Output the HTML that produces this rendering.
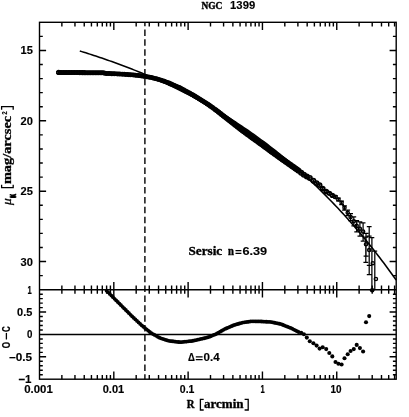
<!DOCTYPE html>
<html><head><meta charset="utf-8"><title>NGC 1399</title>
<style>html,body{margin:0;padding:0;background:#fff;}svg{display:block;filter:grayscale(1)}</style></head>
<body>
<svg width="409" height="417" viewBox="0 0 409 417">
<rect width="409" height="417" fill="#fff"/>
<g stroke="#000" stroke-width="1.4" fill="none" stroke-linecap="butt">
<rect x="39.5" y="22.3" width="356.70" height="356.90"/>
<line x1="39.5" x2="396.2" y1="289.7" y2="289.7"/>
<line x1="39.5" x2="396.2" y1="334.45" y2="334.45"/>
<path d="M61.87 22.3v4.1M61.87 285.59999999999997v8.2M61.87 379.2v-4.1M74.96 22.3v4.1M74.96 285.59999999999997v8.2M74.96 379.2v-4.1M84.24 22.3v4.1M84.24 285.59999999999997v8.2M84.24 379.2v-4.1M91.44 22.3v4.1M91.44 285.59999999999997v8.2M91.44 379.2v-4.1M97.33 22.3v4.1M97.33 285.59999999999997v8.2M97.33 379.2v-4.1M102.30 22.3v4.1M102.30 285.59999999999997v8.2M102.30 379.2v-4.1M106.61 22.3v4.1M106.61 285.59999999999997v8.2M106.61 379.2v-4.1M110.41 22.3v4.1M110.41 285.59999999999997v8.2M110.41 379.2v-4.1M113.81 22.3v7.7M113.81 282.0v15.4M113.81 379.2v-7.7M136.18 22.3v4.1M136.18 285.59999999999997v8.2M136.18 379.2v-4.1M149.27 22.3v4.1M149.27 285.59999999999997v8.2M149.27 379.2v-4.1M158.55 22.3v4.1M158.55 285.59999999999997v8.2M158.55 379.2v-4.1M165.75 22.3v4.1M165.75 285.59999999999997v8.2M165.75 379.2v-4.1M171.64 22.3v4.1M171.64 285.59999999999997v8.2M171.64 379.2v-4.1M176.61 22.3v4.1M176.61 285.59999999999997v8.2M176.61 379.2v-4.1M180.92 22.3v4.1M180.92 285.59999999999997v8.2M180.92 379.2v-4.1M184.72 22.3v4.1M184.72 285.59999999999997v8.2M184.72 379.2v-4.1M188.12 22.3v7.7M188.12 282.0v15.4M188.12 379.2v-7.7M210.50 22.3v4.1M210.50 285.59999999999997v8.2M210.50 379.2v-4.1M223.58 22.3v4.1M223.58 285.59999999999997v8.2M223.58 379.2v-4.1M232.87 22.3v4.1M232.87 285.59999999999997v8.2M232.87 379.2v-4.1M240.07 22.3v4.1M240.07 285.59999999999997v8.2M240.07 379.2v-4.1M245.95 22.3v4.1M245.95 285.59999999999997v8.2M245.95 379.2v-4.1M250.93 22.3v4.1M250.93 285.59999999999997v8.2M250.93 379.2v-4.1M255.24 22.3v4.1M255.24 285.59999999999997v8.2M255.24 379.2v-4.1M259.04 22.3v4.1M259.04 285.59999999999997v8.2M259.04 379.2v-4.1M262.44 22.3v7.7M262.44 282.0v15.4M262.44 379.2v-7.7M284.81 22.3v4.1M284.81 285.59999999999997v8.2M284.81 379.2v-4.1M297.89 22.3v4.1M297.89 285.59999999999997v8.2M297.89 379.2v-4.1M307.18 22.3v4.1M307.18 285.59999999999997v8.2M307.18 379.2v-4.1M314.38 22.3v4.1M314.38 285.59999999999997v8.2M314.38 379.2v-4.1M320.26 22.3v4.1M320.26 285.59999999999997v8.2M320.26 379.2v-4.1M325.24 22.3v4.1M325.24 285.59999999999997v8.2M325.24 379.2v-4.1M329.55 22.3v4.1M329.55 285.59999999999997v8.2M329.55 379.2v-4.1M333.35 22.3v4.1M333.35 285.59999999999997v8.2M333.35 379.2v-4.1M336.75 22.3v7.7M336.75 282.0v15.4M336.75 379.2v-7.7M359.12 22.3v4.1M359.12 285.59999999999997v8.2M359.12 379.2v-4.1M372.21 22.3v4.1M372.21 285.59999999999997v8.2M372.21 379.2v-4.1M381.49 22.3v4.1M381.49 285.59999999999997v8.2M381.49 379.2v-4.1M388.69 22.3v4.1M388.69 285.59999999999997v8.2M388.69 379.2v-4.1M394.58 22.3v4.1M394.58 285.59999999999997v8.2M394.58 379.2v-4.1M39.5 36.37h3.3M396.2 36.37h-3.3M39.5 50.45h6.6M396.2 50.45h-6.6M39.5 64.52h3.3M396.2 64.52h-3.3M39.5 78.59h3.3M396.2 78.59h-3.3M39.5 92.67h3.3M396.2 92.67h-3.3M39.5 106.74h3.3M396.2 106.74h-3.3M39.5 120.82h6.6M396.2 120.82h-6.6M39.5 134.89h3.3M396.2 134.89h-3.3M39.5 148.96h3.3M396.2 148.96h-3.3M39.5 163.04h3.3M396.2 163.04h-3.3M39.5 177.11h3.3M396.2 177.11h-3.3M39.5 191.18h6.6M396.2 191.18h-6.6M39.5 205.26h3.3M396.2 205.26h-3.3M39.5 219.33h3.3M396.2 219.33h-3.3M39.5 233.41h3.3M396.2 233.41h-3.3M39.5 247.48h3.3M396.2 247.48h-3.3M39.5 261.55h6.6M396.2 261.55h-6.6M39.5 275.63h3.3M396.2 275.63h-3.3M39.5 374.72h3.3M396.2 374.72h-3.3M39.5 370.25h3.3M396.2 370.25h-3.3M39.5 365.77h3.3M396.2 365.77h-3.3M39.5 361.30h3.3M396.2 361.30h-3.3M39.5 356.82h6.6M396.2 356.82h-6.6M39.5 352.35h3.3M396.2 352.35h-3.3M39.5 347.88h3.3M396.2 347.88h-3.3M39.5 343.40h3.3M396.2 343.40h-3.3M39.5 338.93h3.3M396.2 338.93h-3.3M39.5 329.97h3.3M396.2 329.97h-3.3M39.5 325.50h3.3M396.2 325.50h-3.3M39.5 321.02h3.3M396.2 321.02h-3.3M39.5 316.55h3.3M396.2 316.55h-3.3M39.5 312.07h6.6M396.2 312.07h-6.6M39.5 307.60h3.3M396.2 307.60h-3.3M39.5 303.12h3.3M396.2 303.12h-3.3M39.5 298.65h3.3M396.2 298.65h-3.3M39.5 294.18h3.3M396.2 294.18h-3.3"/>
<line x1="144.9" x2="144.9" y1="22.3" y2="379.2" stroke-dasharray="6.5 3.35" stroke-dashoffset="2.65"/>
</g>
<g stroke="#000" stroke-width="1.25" fill="none">
<path d="M58.60 71.52V73.41M56.20 71.52h4.8M56.20 73.41h4.8M60.20 71.54V73.43M57.80 71.54h4.8M57.80 73.43h4.8M61.80 71.55V73.44M59.40 71.55h4.8M59.40 73.44h4.8M63.40 71.56V73.45M61.00 71.56h4.8M61.00 73.45h4.8M65.00 71.58V73.47M62.60 71.58h4.8M62.60 73.47h4.8M66.60 71.59V73.48M64.20 71.59h4.8M64.20 73.48h4.8M68.20 71.61V73.50M65.80 71.61h4.8M65.80 73.50h4.8M69.80 71.62V73.51M67.40 71.62h4.8M67.40 73.51h4.8M71.40 71.63V73.52M69.00 71.63h4.8M69.00 73.52h4.8M73.00 71.65V73.54M70.60 71.65h4.8M70.60 73.54h4.8M74.60 71.66V73.55M72.20 71.66h4.8M72.20 73.55h4.8M76.20 71.67V73.56M73.80 71.67h4.8M73.80 73.56h4.8M77.80 71.69V73.58M75.40 71.69h4.8M75.40 73.58h4.8M79.40 71.70V73.59M77.00 71.70h4.8M77.00 73.59h4.8M81.00 71.72V73.61M78.60 71.72h4.8M78.60 73.61h4.8M82.60 71.73V73.62M80.20 71.73h4.8M80.20 73.62h4.8M84.20 71.74V73.63M81.80 71.74h4.8M81.80 73.63h4.8M85.80 71.76V73.65M83.40 71.76h4.8M83.40 73.65h4.8M87.40 71.77V73.66M85.00 71.77h4.8M85.00 73.66h4.8M89.00 71.78V73.67M86.60 71.78h4.8M86.60 73.67h4.8M90.60 71.80V73.69M88.20 71.80h4.8M88.20 73.69h4.8M92.20 71.81V73.70M89.80 71.81h4.8M89.80 73.70h4.8M93.80 71.83V73.72M91.40 71.83h4.8M91.40 73.72h4.8M95.40 71.84V73.73M93.00 71.84h4.8M93.00 73.73h4.8M97.00 71.85V73.74M94.60 71.85h4.8M94.60 73.74h4.8M98.60 71.87V73.76M96.20 71.87h4.8M96.20 73.76h4.8M100.20 71.88V73.77M97.80 71.88h4.8M97.80 73.77h4.8M101.80 71.89V73.78M99.40 71.89h4.8M99.40 73.78h4.8M103.40 71.91V73.80M101.00 71.91h4.8M101.00 73.80h4.8M105.00 72.46V74.35M102.60 72.46h4.8M102.60 74.35h4.8M106.60 72.60V74.49M104.20 72.60h4.8M104.20 74.49h4.8M108.20 72.65V74.54M105.80 72.65h4.8M105.80 74.54h4.8M109.80 72.70V74.59M107.40 72.70h4.8M107.40 74.59h4.8M111.40 72.76V74.65M109.00 72.76h4.8M109.00 74.65h4.8M113.00 72.83V74.72M110.60 72.83h4.8M110.60 74.72h4.8M114.60 72.90V74.79M112.20 72.90h4.8M112.20 74.79h4.8M116.20 72.97V74.86M113.80 72.97h4.8M113.80 74.86h4.8M117.80 73.05V74.94M115.40 73.05h4.8M115.40 74.94h4.8M119.40 73.14V75.03M117.00 73.14h4.8M117.00 75.03h4.8M121.00 73.23V75.12M118.60 73.23h4.8M118.60 75.12h4.8M122.60 73.33V75.22M120.20 73.33h4.8M120.20 75.22h4.8M124.20 73.43V75.32M121.80 73.43h4.8M121.80 75.32h4.8M125.80 73.53V75.42M123.40 73.53h4.8M123.40 75.42h4.8M127.40 73.64V75.53M125.00 73.64h4.8M125.00 75.53h4.8M129.00 73.76V75.65M126.60 73.76h4.8M126.60 75.65h4.8M130.60 73.88V75.77M128.20 73.88h4.8M128.20 75.77h4.8M132.20 74.00V75.89M129.80 74.00h4.8M129.80 75.89h4.8M133.80 74.14V76.03M131.40 74.14h4.8M131.40 76.03h4.8M135.40 74.31V76.20M133.00 74.31h4.8M133.00 76.20h4.8M137.00 74.49V76.38M134.60 74.49h4.8M134.60 76.38h4.8M138.60 74.66V76.55M136.20 74.66h4.8M136.20 76.55h4.8M140.20 74.85V76.74M137.80 74.85h4.8M137.80 76.74h4.8M141.80 75.04V76.93M139.40 75.04h4.8M139.40 76.93h4.8M143.40 75.28V77.17M141.00 75.28h4.8M141.00 77.17h4.8M145.00 75.54V77.43M142.60 75.54h4.8M142.60 77.43h4.8M146.60 75.80V77.69M144.20 75.80h4.8M144.20 77.69h4.8M148.20 76.06V77.95M145.80 76.06h4.8M145.80 77.95h4.8M149.80 76.33V78.22M147.40 76.33h4.8M147.40 78.22h4.8M151.40 76.66V78.55M149.00 76.66h4.8M149.00 78.55h4.8M153.00 77.07V78.96M150.60 77.07h4.8M150.60 78.96h4.8M154.60 77.48V79.37M152.20 77.48h4.8M152.20 79.37h4.8M156.20 77.90V79.79M153.80 77.90h4.8M153.80 79.79h4.8M157.80 78.32V80.21M155.40 78.32h4.8M155.40 80.21h4.8M159.40 78.75V80.64M157.00 78.75h4.8M157.00 80.64h4.8M161.00 79.29V81.18M158.60 79.29h4.8M158.60 81.18h4.8M162.60 79.85V81.74M160.20 79.85h4.8M160.20 81.74h4.8M164.20 80.41V82.30M161.80 80.41h4.8M161.80 82.30h4.8M165.80 80.97V82.86M163.40 80.97h4.8M163.40 82.86h4.8M167.40 81.55V83.44M165.00 81.55h4.8M165.00 83.44h4.8M169.00 82.17V84.06M166.60 82.17h4.8M166.60 84.06h4.8M170.60 82.86V84.75M168.20 82.86h4.8M168.20 84.75h4.8M172.20 83.56V85.45M169.80 83.56h4.8M169.80 85.45h4.8M173.80 84.27V86.16M171.40 84.27h4.8M171.40 86.16h4.8M175.40 84.99V86.88M173.00 84.99h4.8M173.00 86.88h4.8M177.00 85.71V87.60M174.60 85.71h4.8M174.60 87.60h4.8M178.60 86.43V88.32M176.20 86.43h4.8M176.20 88.32h4.8M180.20 87.17V89.06M177.80 87.17h4.8M177.80 89.06h4.8M181.80 88.02V89.91M179.40 88.02h4.8M179.40 89.91h4.8M183.40 88.88V90.77M181.00 88.88h4.8M181.00 90.77h4.8M185.00 89.74V91.63M182.60 89.74h4.8M182.60 91.63h4.8M186.60 90.61V92.50M184.20 90.61h4.8M184.20 92.50h4.8M188.20 91.48V93.37M185.80 91.48h4.8M185.80 93.37h4.8M189.80 92.36V94.25M187.40 92.36h4.8M187.40 94.25h4.8M191.40 93.25V95.14M189.00 93.25h4.8M189.00 95.14h4.8M193.00 94.19V96.08M190.60 94.19h4.8M190.60 96.08h4.8M194.60 95.15V97.04M192.20 95.15h4.8M192.20 97.04h4.8M196.20 96.12V98.01M193.80 96.12h4.8M193.80 98.01h4.8M197.80 97.09V98.98M195.40 97.09h4.8M195.40 98.98h4.8M199.40 98.07V99.96M197.00 98.07h4.8M197.00 99.96h4.8M201.00 99.06V100.95M198.60 99.06h4.8M198.60 100.95h4.8M202.60 100.05V101.94M200.20 100.05h4.8M200.20 101.94h4.8M204.20 101.06V102.95M201.80 101.06h4.8M201.80 102.95h4.8M205.80 102.09V103.98M203.40 102.09h4.8M203.40 103.98h4.8M207.40 103.13V105.02M205.00 103.13h4.8M205.00 105.02h4.8M209.00 104.19V106.08M206.60 104.19h4.8M206.60 106.08h4.8M210.60 105.31V107.20M208.20 105.31h4.8M208.20 107.20h4.8M212.20 106.44V108.33M209.80 106.44h4.8M209.80 108.33h4.8M213.80 107.58V109.47M211.40 107.58h4.8M211.40 109.47h4.8M215.40 108.73V110.62M213.00 108.73h4.8M213.00 110.62h4.8M217.00 109.93V111.82M214.60 109.93h4.8M214.60 111.82h4.8M218.60 111.17V113.06M216.20 111.17h4.8M216.20 113.06h4.8M220.20 112.41V114.30M217.80 112.41h4.8M217.80 114.30h4.8M221.80 113.67V115.56M219.40 113.67h4.8M219.40 115.56h4.8M223.40 114.93V116.82M221.00 114.93h4.8M221.00 116.82h4.8M225.00 116.20V118.09M222.60 116.20h4.8M222.60 118.09h4.8M226.60 117.41V119.30M224.20 117.41h4.8M224.20 119.30h4.8M228.20 118.62V120.51M225.80 118.62h4.8M225.80 120.51h4.8M229.80 119.85V121.74M227.40 119.85h4.8M227.40 121.74h4.8M231.40 121.08V122.97M229.00 121.08h4.8M229.00 122.97h4.8M233.00 122.32V124.21M230.60 122.32h4.8M230.60 124.21h4.8M234.60 123.53V125.42M232.20 123.53h4.8M232.20 125.42h4.8M236.20 124.72V126.61M233.80 124.72h4.8M233.80 126.61h4.8M237.80 125.92V127.81M235.40 125.92h4.8M235.40 127.81h4.8M239.40 127.12V129.01M237.00 127.12h4.8M237.00 129.01h4.8M241.00 128.33V130.22M238.60 128.33h4.8M238.60 130.22h4.8M242.60 129.55V131.44M240.20 129.55h4.8M240.20 131.44h4.8M244.20 130.70V132.59M241.80 130.70h4.8M241.80 132.59h4.8M245.80 131.87V133.76M243.40 131.87h4.8M243.40 133.76h4.8M247.40 133.04V134.93M245.00 133.04h4.8M245.00 134.93h4.8M249.00 134.22V136.11M246.60 134.22h4.8M246.60 136.11h4.8M250.60 135.41V137.30M248.20 135.41h4.8M248.20 137.30h4.8M252.20 136.56V138.45M249.80 136.56h4.8M249.80 138.45h4.8M253.80 137.68V139.57M251.40 137.68h4.8M251.40 139.57h4.8M255.40 138.81V140.70M253.00 138.81h4.8M253.00 140.70h4.8M257.00 139.95V141.84M254.60 139.95h4.8M254.60 141.84h4.8M258.60 141.10V142.99M256.20 141.10h4.8M256.20 142.99h4.8M260.20 142.25V144.14M257.80 142.25h4.8M257.80 144.14h4.8M261.80 143.42V145.31M259.40 143.42h4.8M259.40 145.31h4.8M263.40 144.58V146.47M261.00 144.58h4.8M261.00 146.47h4.8M265.00 145.75V147.64M262.60 145.75h4.8M262.60 147.64h4.8M266.60 146.93V148.82M264.20 146.93h4.8M264.20 148.82h4.8M268.20 148.13V150.02M265.80 148.13h4.8M265.80 150.02h4.8M269.80 149.33V151.22M267.40 149.33h4.8M267.40 151.22h4.8M271.40 150.49V152.38M269.00 150.49h4.8M269.00 152.38h4.8M273.00 151.63V153.52M270.60 151.63h4.8M270.60 153.52h4.8M274.60 152.77V154.66M272.20 152.77h4.8M272.20 154.66h4.8M276.20 153.93V155.82M273.80 153.93h4.8M273.80 155.82h4.8M277.80 155.10V156.99M275.40 155.10h4.8M275.40 156.99h4.8M279.40 156.28V158.17M277.00 156.28h4.8M277.00 158.17h4.8M281.00 157.45V159.34M278.60 157.45h4.8M278.60 159.34h4.8M282.60 158.55V160.44M280.20 158.55h4.8M280.20 160.44h4.8M284.20 159.66V161.55M281.80 159.66h4.8M281.80 161.55h4.8M285.80 160.78V162.67M283.40 160.78h4.8M283.40 162.67h4.8M287.40 161.92V163.81M285.00 161.92h4.8M285.00 163.81h4.8M289.00 163.06V164.95M286.60 163.06h4.8M286.60 164.95h4.8M290.60 164.21V166.10M288.20 164.21h4.8M288.20 166.10h4.8M292.20 165.33V167.22M289.80 165.33h4.8M289.80 167.22h4.8M293.80 166.45V168.34M291.40 166.45h4.8M291.40 168.34h4.8M295.40 167.58V169.47M293.00 167.58h4.8M293.00 169.47h4.8M297.00 168.71V170.60M294.60 168.71h4.8M294.60 170.60h4.8M298.60 169.86V171.75M296.20 169.86h4.8M296.20 171.75h4.8M301.20 171.95V173.84M298.80 171.95h4.8M298.80 173.84h4.8M303.90 173.90V175.79M301.50 173.90h4.8M301.50 175.79h4.8M306.80 175.48V177.37M304.40 175.48h4.8M304.40 177.37h4.8M309.80 177.12V179.01M307.40 177.12h4.8M307.40 179.01h4.8M313.40 179.87V181.76M311.00 179.87h4.8M311.00 181.76h4.8M316.60 182.18V184.07M314.20 182.18h4.8M314.20 184.07h4.8M319.60 184.14V186.03M317.20 184.14h4.8M317.20 186.03h4.8M322.70 187.60V189.49M320.30 187.60h4.8M320.30 189.49h4.8M326.20 190.54V192.43M323.80 190.54h4.8M323.80 192.43h4.8M329.30 192.46V194.35M326.90 192.46h4.8M326.90 194.35h4.8M332.30 194.49V196.38M329.90 194.49h4.8M329.90 196.38h4.8M335.50 195.94V198.12M333.10 195.94h4.8M333.10 198.12h4.8M338.40 198.23V200.95M336.00 198.23h4.8M336.00 200.95h4.8M341.60 201.06V204.55M339.20 201.06h4.8M339.20 204.55h4.8M344.50 205.77V210.13M342.10 205.77h4.8M342.10 210.13h4.8M347.70 210.04V215.61M345.30 210.04h4.8M345.30 215.61h4.8M350.60 213.65V220.62M348.20 213.65h4.8M348.20 220.62h4.8M353.80 216.98V225.90M351.40 216.98h4.8M351.40 225.90h4.8M356.70 220.61V231.76M354.30 220.61h4.8M354.30 231.76h4.8M359.90 221.89V236.15M357.50 221.89h4.8M357.50 236.15h4.8M363.10 222.76V241.00M360.70 222.76h4.8M360.70 241.00h4.8M366.00 233.33V256.12M363.60 233.33h4.8M363.60 256.12h4.8M369.20 236.16V265.32M366.80 236.16h4.8M366.80 265.32h4.8M365.80 237.00V262.30M363.40 237.00h4.8M363.40 262.30h4.8M369.20 226.50V274.60M366.80 226.50h4.8M366.80 274.60h4.8M371.90 237.50V289.70M369.50 237.50h4.8M374.80 251.00V289.70M372.40 251.00h4.8"/>
</g>
<g stroke="#000" fill="none">
<circle cx="58.60" cy="72.42" r="1.80" stroke-width="1.5"/>
<circle cx="60.20" cy="72.44" r="1.80" stroke-width="1.5"/>
<circle cx="61.80" cy="72.45" r="1.79" stroke-width="1.5"/>
<circle cx="63.40" cy="72.46" r="1.79" stroke-width="1.5"/>
<circle cx="65.00" cy="72.48" r="1.79" stroke-width="1.5"/>
<circle cx="66.60" cy="72.49" r="1.79" stroke-width="1.5"/>
<circle cx="68.20" cy="72.51" r="1.79" stroke-width="1.5"/>
<circle cx="69.80" cy="72.52" r="1.79" stroke-width="1.5"/>
<circle cx="71.40" cy="72.53" r="1.78" stroke-width="1.5"/>
<circle cx="73.00" cy="72.55" r="1.78" stroke-width="1.5"/>
<circle cx="74.60" cy="72.56" r="1.78" stroke-width="1.5"/>
<circle cx="76.20" cy="72.57" r="1.78" stroke-width="1.5"/>
<circle cx="77.80" cy="72.59" r="1.78" stroke-width="1.5"/>
<circle cx="79.40" cy="72.60" r="1.78" stroke-width="1.5"/>
<circle cx="81.00" cy="72.62" r="1.77" stroke-width="1.5"/>
<circle cx="82.60" cy="72.63" r="1.77" stroke-width="1.5"/>
<circle cx="84.20" cy="72.64" r="1.77" stroke-width="1.5"/>
<circle cx="85.80" cy="72.66" r="1.77" stroke-width="1.5"/>
<circle cx="87.40" cy="72.67" r="1.77" stroke-width="1.5"/>
<circle cx="89.00" cy="72.68" r="1.76" stroke-width="1.5"/>
<circle cx="90.60" cy="72.70" r="1.76" stroke-width="1.5"/>
<circle cx="92.20" cy="72.71" r="1.76" stroke-width="1.5"/>
<circle cx="93.80" cy="72.73" r="1.76" stroke-width="1.5"/>
<circle cx="95.40" cy="72.74" r="1.76" stroke-width="1.5"/>
<circle cx="97.00" cy="72.75" r="1.76" stroke-width="1.5"/>
<circle cx="98.60" cy="72.77" r="1.75" stroke-width="1.5"/>
<circle cx="100.20" cy="72.78" r="1.75" stroke-width="1.5"/>
<circle cx="101.80" cy="72.79" r="1.75" stroke-width="1.5"/>
<circle cx="103.40" cy="72.81" r="1.75" stroke-width="1.5"/>
<circle cx="105.00" cy="73.36" r="1.75" stroke-width="1.5"/>
<circle cx="106.60" cy="73.50" r="1.75" stroke-width="1.5"/>
<circle cx="108.20" cy="73.55" r="1.74" stroke-width="1.5"/>
<circle cx="109.80" cy="73.60" r="1.74" stroke-width="1.5"/>
<circle cx="111.40" cy="73.66" r="1.74" stroke-width="1.5"/>
<circle cx="113.00" cy="73.73" r="1.74" stroke-width="1.5"/>
<circle cx="114.60" cy="73.80" r="1.74" stroke-width="1.5"/>
<circle cx="116.20" cy="73.87" r="1.74" stroke-width="1.5"/>
<circle cx="117.80" cy="73.95" r="1.73" stroke-width="1.5"/>
<circle cx="119.40" cy="74.04" r="1.73" stroke-width="1.5"/>
<circle cx="121.00" cy="74.13" r="1.73" stroke-width="1.5"/>
<circle cx="122.60" cy="74.23" r="1.73" stroke-width="1.5"/>
<circle cx="124.20" cy="74.33" r="1.73" stroke-width="1.5"/>
<circle cx="125.80" cy="74.43" r="1.73" stroke-width="1.5"/>
<circle cx="127.40" cy="74.54" r="1.72" stroke-width="1.5"/>
<circle cx="129.00" cy="74.66" r="1.72" stroke-width="1.5"/>
<circle cx="130.60" cy="74.78" r="1.72" stroke-width="1.5"/>
<circle cx="132.20" cy="74.90" r="1.72" stroke-width="1.5"/>
<circle cx="133.80" cy="75.04" r="1.72" stroke-width="1.5"/>
<circle cx="135.40" cy="75.21" r="1.72" stroke-width="1.5"/>
<circle cx="137.00" cy="75.39" r="1.71" stroke-width="1.5"/>
<circle cx="138.60" cy="75.56" r="1.71" stroke-width="1.5"/>
<circle cx="140.20" cy="75.75" r="1.71" stroke-width="1.5"/>
<circle cx="141.80" cy="75.94" r="1.71" stroke-width="1.5"/>
<circle cx="143.40" cy="76.18" r="1.71" stroke-width="1.5"/>
<circle cx="145.00" cy="76.44" r="1.71" stroke-width="1.5"/>
<circle cx="146.60" cy="76.70" r="1.70" stroke-width="1.5"/>
<circle cx="148.20" cy="76.96" r="1.70" stroke-width="1.5"/>
<circle cx="149.80" cy="77.23" r="1.70" stroke-width="1.5"/>
<circle cx="151.40" cy="77.56" r="1.70" stroke-width="1.5"/>
<circle cx="153.00" cy="77.97" r="1.70" stroke-width="1.5"/>
<circle cx="154.60" cy="78.38" r="1.70" stroke-width="1.5"/>
<circle cx="156.20" cy="78.80" r="1.70" stroke-width="1.5"/>
<circle cx="157.80" cy="79.22" r="1.71" stroke-width="1.5"/>
<circle cx="159.40" cy="79.65" r="1.71" stroke-width="1.5"/>
<circle cx="161.00" cy="80.19" r="1.71" stroke-width="1.5"/>
<circle cx="162.60" cy="80.75" r="1.71" stroke-width="1.5"/>
<circle cx="164.20" cy="81.31" r="1.71" stroke-width="1.5"/>
<circle cx="165.80" cy="81.87" r="1.71" stroke-width="1.5"/>
<circle cx="167.40" cy="82.45" r="1.71" stroke-width="1.5"/>
<circle cx="169.00" cy="83.07" r="1.71" stroke-width="1.5"/>
<circle cx="170.60" cy="83.76" r="1.72" stroke-width="1.5"/>
<circle cx="172.20" cy="84.46" r="1.72" stroke-width="1.5"/>
<circle cx="173.80" cy="85.17" r="1.72" stroke-width="1.5"/>
<circle cx="175.40" cy="85.89" r="1.72" stroke-width="1.5"/>
<circle cx="177.00" cy="86.61" r="1.72" stroke-width="1.5"/>
<circle cx="178.60" cy="87.33" r="1.72" stroke-width="1.5"/>
<circle cx="180.20" cy="88.07" r="1.72" stroke-width="1.5"/>
<circle cx="181.80" cy="88.92" r="1.72" stroke-width="1.5"/>
<circle cx="183.40" cy="89.78" r="1.73" stroke-width="1.5"/>
<circle cx="185.00" cy="90.64" r="1.73" stroke-width="1.5"/>
<circle cx="186.60" cy="91.51" r="1.73" stroke-width="1.5"/>
<circle cx="188.20" cy="92.38" r="1.73" stroke-width="1.5"/>
<circle cx="189.80" cy="93.26" r="1.73" stroke-width="1.5"/>
<circle cx="191.40" cy="94.15" r="1.73" stroke-width="1.5"/>
<circle cx="193.00" cy="95.09" r="1.73" stroke-width="1.5"/>
<circle cx="194.60" cy="96.05" r="1.73" stroke-width="1.5"/>
<circle cx="196.20" cy="97.02" r="1.74" stroke-width="1.5"/>
<circle cx="197.80" cy="97.99" r="1.74" stroke-width="1.5"/>
<circle cx="199.40" cy="98.97" r="1.74" stroke-width="1.5"/>
<circle cx="201.00" cy="99.96" r="1.74" stroke-width="1.5"/>
<circle cx="202.60" cy="100.95" r="1.74" stroke-width="1.5"/>
<circle cx="204.20" cy="101.96" r="1.74" stroke-width="1.5"/>
<circle cx="205.80" cy="102.99" r="1.74" stroke-width="1.5"/>
<circle cx="207.40" cy="104.03" r="1.74" stroke-width="1.5"/>
<circle cx="209.00" cy="105.09" r="1.75" stroke-width="1.5"/>
<circle cx="210.60" cy="106.21" r="1.75" stroke-width="1.5"/>
<circle cx="212.20" cy="107.34" r="1.75" stroke-width="1.5"/>
<circle cx="213.80" cy="108.48" r="1.75" stroke-width="1.5"/>
<circle cx="215.40" cy="109.63" r="1.76" stroke-width="1.5"/>
<circle cx="217.00" cy="110.83" r="1.78" stroke-width="1.5"/>
<circle cx="218.60" cy="112.07" r="1.81" stroke-width="1.5"/>
<circle cx="220.20" cy="113.31" r="1.83" stroke-width="1.5"/>
<circle cx="221.80" cy="114.57" r="1.86" stroke-width="1.5"/>
<circle cx="223.40" cy="115.83" r="1.88" stroke-width="1.5"/>
<circle cx="225.00" cy="117.10" r="1.91" stroke-width="1.5"/>
<circle cx="226.60" cy="118.31" r="1.93" stroke-width="1.5"/>
<circle cx="228.20" cy="119.52" r="1.96" stroke-width="1.5"/>
<circle cx="229.80" cy="120.75" r="1.98" stroke-width="1.5"/>
<circle cx="231.40" cy="121.98" r="2.01" stroke-width="1.5"/>
<circle cx="233.00" cy="123.22" r="2.03" stroke-width="1.5"/>
<circle cx="234.60" cy="124.43" r="2.06" stroke-width="1.5"/>
<circle cx="236.20" cy="125.62" r="2.08" stroke-width="1.5"/>
<circle cx="237.80" cy="126.82" r="2.11" stroke-width="1.5"/>
<circle cx="239.40" cy="128.02" r="2.13" stroke-width="1.5"/>
<circle cx="241.00" cy="129.23" r="2.16" stroke-width="1.5"/>
<circle cx="242.60" cy="130.45" r="2.18" stroke-width="1.5"/>
<circle cx="244.20" cy="131.60" r="2.21" stroke-width="1.5"/>
<circle cx="245.80" cy="132.77" r="2.23" stroke-width="1.5"/>
<circle cx="247.40" cy="133.94" r="2.26" stroke-width="1.5"/>
<circle cx="249.00" cy="135.12" r="2.28" stroke-width="1.5"/>
<circle cx="250.60" cy="136.31" r="2.30" stroke-width="1.5"/>
<circle cx="252.20" cy="137.46" r="2.30" stroke-width="1.5"/>
<circle cx="253.80" cy="138.58" r="2.30" stroke-width="1.5"/>
<circle cx="255.40" cy="139.71" r="2.30" stroke-width="1.5"/>
<circle cx="257.00" cy="140.85" r="2.30" stroke-width="1.5"/>
<circle cx="258.60" cy="142.00" r="2.30" stroke-width="1.5"/>
<circle cx="260.20" cy="143.15" r="2.30" stroke-width="1.5"/>
<circle cx="261.80" cy="144.32" r="2.30" stroke-width="1.5"/>
<circle cx="263.40" cy="145.48" r="2.30" stroke-width="1.5"/>
<circle cx="265.00" cy="146.65" r="2.30" stroke-width="1.5"/>
<circle cx="266.60" cy="147.83" r="2.30" stroke-width="1.5"/>
<circle cx="268.20" cy="149.03" r="2.30" stroke-width="1.5"/>
<circle cx="269.80" cy="150.23" r="2.30" stroke-width="1.5"/>
<circle cx="271.40" cy="151.39" r="2.30" stroke-width="1.5"/>
<circle cx="273.00" cy="152.53" r="2.30" stroke-width="1.5"/>
<circle cx="274.60" cy="153.67" r="2.30" stroke-width="1.5"/>
<circle cx="276.20" cy="154.83" r="2.30" stroke-width="1.5"/>
<circle cx="277.80" cy="156.00" r="2.30" stroke-width="1.5"/>
<circle cx="279.40" cy="157.18" r="2.30" stroke-width="1.5"/>
<circle cx="281.00" cy="158.35" r="2.30" stroke-width="1.5"/>
<circle cx="282.60" cy="159.45" r="2.30" stroke-width="1.5"/>
<circle cx="284.20" cy="160.56" r="2.30" stroke-width="1.5"/>
<circle cx="285.80" cy="161.68" r="2.30" stroke-width="1.5"/>
<circle cx="287.40" cy="162.82" r="2.30" stroke-width="1.5"/>
<circle cx="289.00" cy="163.96" r="2.30" stroke-width="1.5"/>
<circle cx="290.60" cy="165.11" r="2.30" stroke-width="1.5"/>
<circle cx="292.20" cy="166.23" r="2.30" stroke-width="1.5"/>
<circle cx="293.80" cy="167.35" r="2.30" stroke-width="1.5"/>
<circle cx="295.40" cy="168.48" r="2.30" stroke-width="1.5"/>
<circle cx="297.00" cy="169.61" r="2.30" stroke-width="1.5"/>
<circle cx="298.60" cy="170.76" r="2.30" stroke-width="1.5"/>
<circle cx="301.20" cy="172.85" r="2.29" stroke-width="1.5"/>
<circle cx="303.90" cy="174.80" r="2.27" stroke-width="1.5"/>
<circle cx="306.80" cy="176.38" r="2.25" stroke-width="1.5"/>
<circle cx="309.80" cy="178.02" r="2.22" stroke-width="1.5"/>
<circle cx="313.40" cy="180.77" r="2.19" stroke-width="1.5"/>
<circle cx="316.60" cy="183.08" r="2.17" stroke-width="1.5"/>
<circle cx="319.60" cy="185.04" r="2.14" stroke-width="1.5"/>
<circle cx="322.70" cy="188.50" r="2.12" stroke-width="1.5"/>
<circle cx="326.20" cy="191.44" r="2.06" stroke-width="1.5"/>
<circle cx="329.30" cy="193.36" r="1.96" stroke-width="1.5"/>
<circle cx="332.30" cy="195.39" r="1.86" stroke-width="1.5"/>
<circle cx="335.50" cy="196.98" r="1.75" stroke-width="1.4"/>
<circle cx="338.40" cy="199.52" r="1.65" stroke-width="1.4"/>
<circle cx="341.60" cy="202.72" r="1.60" stroke-width="1.4"/>
<circle cx="344.50" cy="207.85" r="1.60" stroke-width="1.4"/>
<circle cx="347.70" cy="212.69" r="1.60" stroke-width="1.4"/>
<circle cx="350.60" cy="216.97" r="1.60" stroke-width="1.4"/>
<circle cx="353.80" cy="221.23" r="1.60" stroke-width="1.4"/>
<circle cx="356.70" cy="225.92" r="1.60" stroke-width="1.4"/>
<circle cx="359.90" cy="228.68" r="1.60" stroke-width="1.4"/>
<circle cx="363.10" cy="231.44" r="1.60" stroke-width="1.4"/>
<circle cx="366.00" cy="244.18" r="1.60" stroke-width="1.4"/>
<circle cx="369.20" cy="250.04" r="1.60" stroke-width="1.4"/>
<circle cx="372.80" cy="263.20" r="1.60" stroke-width="1.4"/>
<circle cx="375.90" cy="279.00" r="1.60" stroke-width="1.4"/>
</g>
<path d="M79.80 51.00 L81.80 51.62 L83.80 52.24 L85.80 52.86 L87.80 53.49 L89.80 54.13 L91.80 54.78 L93.80 55.43 L95.80 56.08 L97.80 56.75 L99.80 57.42 L101.80 58.09 L103.80 58.78 L105.80 59.47 L107.80 60.16 L109.80 60.87 L111.80 61.58 L113.80 62.29 L115.80 63.02 L117.80 63.75 L119.80 64.48 L121.80 65.23 L123.80 65.98 L125.80 66.74 L127.80 67.51 L129.80 68.28 L131.80 69.07 L133.80 69.86 L135.80 70.65 L137.80 71.46 L139.80 72.27 L141.80 73.09 L143.80 73.92 L145.80 74.76 L147.80 75.60 L149.80 76.46 L151.80 77.32 L153.80 78.19 L155.80 79.07 L157.80 79.96 L159.80 80.85 L161.80 81.76 L163.80 82.67 L165.80 83.59 L167.80 84.52 L169.80 85.46 L171.80 86.41 L173.80 87.37 L175.80 88.34 L177.80 89.32 L179.80 90.31 L181.80 91.30 L183.80 92.31 L185.80 93.33 L187.80 94.35 L189.80 95.39 L191.80 96.43 L193.80 97.49 L195.80 98.56 L197.80 99.63 L199.80 100.72 L201.80 101.82 L203.80 102.93 L205.80 104.05 L207.80 105.18 L209.80 106.32 L211.80 107.47 L213.80 108.64 L215.80 109.81 L217.80 111.00 L219.80 112.20 L221.80 113.41 L223.80 114.63 L225.80 115.87 L227.80 117.11 L229.80 118.37 L231.80 119.64 L233.80 120.92 L235.80 122.22 L237.80 123.53 L239.80 124.85 L241.80 126.18 L243.80 127.53 L245.80 128.88 L247.80 130.26 L249.80 131.64 L251.80 133.04 L253.80 134.46 L255.80 135.88 L257.80 137.32 L259.80 138.78 L261.80 140.25 L263.80 141.73 L265.80 143.23 L267.80 144.74 L269.80 146.27 L271.80 147.81 L273.80 149.37 L275.80 150.94 L277.80 152.53 L279.80 154.13 L281.80 155.75 L283.80 157.39 L285.80 159.04 L287.80 160.70 L289.80 162.39 L291.80 164.09 L293.80 165.80 L295.80 167.53 L297.80 169.28 L299.80 171.05 L301.80 172.83 L303.80 174.63 L305.80 176.45 L307.80 178.29 L309.80 180.14 L311.80 182.02 L313.80 183.91 L315.80 185.81 L317.80 187.74 L319.80 189.69 L321.80 191.65 L323.80 193.64 L325.80 195.64 L327.80 197.67 L329.80 199.71 L331.80 201.77 L333.80 203.85 L335.80 205.96 L337.80 208.08 L339.80 210.23 L341.80 212.39 L343.80 214.58 L345.80 216.79 L347.80 219.02 L349.80 221.27 L351.80 223.54 L353.80 225.83 L355.80 228.15 L357.80 230.49 L359.80 232.86 L361.80 235.24 L363.80 237.65 L365.80 240.08 L367.80 242.54 L369.80 245.02 L371.80 247.52 L373.80 250.05 L375.80 252.61 L377.80 255.19 L379.80 257.79 L381.80 260.42 L383.80 263.07 L385.80 265.75 L387.80 268.46 L389.80 271.19 L391.80 273.95 L393.80 276.74 L395.80 279.55 L396.2 280.12" stroke="#000" stroke-width="1.55" fill="none"/>
<g fill="#000">
<circle cx="106.60" cy="290.71" r="1.9"/>
<circle cx="108.20" cy="292.33" r="1.9"/>
<circle cx="109.80" cy="293.94" r="1.9"/>
<circle cx="111.40" cy="295.56" r="1.9"/>
<circle cx="113.00" cy="297.18" r="1.9"/>
<circle cx="114.60" cy="298.79" r="1.9"/>
<circle cx="116.20" cy="300.40" r="1.9"/>
<circle cx="117.80" cy="302.00" r="1.9"/>
<circle cx="119.40" cy="303.60" r="1.9"/>
<circle cx="121.00" cy="305.20" r="1.9"/>
<circle cx="122.60" cy="306.80" r="1.9"/>
<circle cx="124.20" cy="308.40" r="1.9"/>
<circle cx="125.80" cy="310.00" r="1.9"/>
<circle cx="127.40" cy="311.60" r="1.9"/>
<circle cx="129.00" cy="313.20" r="1.9"/>
<circle cx="130.60" cy="314.80" r="1.9"/>
<circle cx="132.20" cy="316.40" r="1.9"/>
<circle cx="133.80" cy="317.95" r="1.9"/>
<circle cx="135.40" cy="319.44" r="1.9"/>
<circle cx="137.00" cy="320.93" r="1.9"/>
<circle cx="138.60" cy="322.42" r="1.9"/>
<circle cx="140.20" cy="323.92" r="1.9"/>
<circle cx="141.80" cy="325.41" r="1.9"/>
<circle cx="143.40" cy="326.73" r="1.9"/>
<circle cx="145.00" cy="328.04" r="1.9"/>
<circle cx="146.60" cy="329.36" r="1.9"/>
<circle cx="148.20" cy="330.67" r="1.9"/>
<circle cx="149.80" cy="331.98" r="1.9"/>
<circle cx="151.40" cy="333.14" r="1.9"/>
<circle cx="153.00" cy="334.05" r="1.9"/>
<circle cx="154.60" cy="334.96" r="1.9"/>
<circle cx="156.20" cy="335.87" r="1.9"/>
<circle cx="157.80" cy="336.78" r="1.9"/>
<circle cx="159.40" cy="337.69" r="1.9"/>
<circle cx="161.00" cy="338.28" r="1.9"/>
<circle cx="162.60" cy="338.82" r="1.9"/>
<circle cx="164.20" cy="339.37" r="1.9"/>
<circle cx="165.80" cy="339.91" r="1.9"/>
<circle cx="167.40" cy="340.46" r="1.9"/>
<circle cx="169.00" cy="340.87" r="1.9"/>
<circle cx="170.60" cy="341.06" r="1.9"/>
<circle cx="172.20" cy="341.25" r="1.9"/>
<circle cx="173.80" cy="341.45" r="1.9"/>
<circle cx="175.40" cy="341.64" r="1.9"/>
<circle cx="177.00" cy="341.83" r="1.9"/>
<circle cx="178.60" cy="342.02" r="1.9"/>
<circle cx="180.20" cy="342.19" r="1.9"/>
<circle cx="181.80" cy="342.03" r="1.9"/>
<circle cx="183.40" cy="341.86" r="1.9"/>
<circle cx="185.00" cy="341.70" r="1.9"/>
<circle cx="186.60" cy="341.53" r="1.9"/>
<circle cx="188.20" cy="341.37" r="1.9"/>
<circle cx="189.80" cy="341.21" r="1.9"/>
<circle cx="191.40" cy="341.04" r="1.9"/>
<circle cx="193.00" cy="340.74" r="1.9"/>
<circle cx="194.60" cy="340.38" r="1.9"/>
<circle cx="196.20" cy="340.03" r="1.9"/>
<circle cx="197.80" cy="339.68" r="1.9"/>
<circle cx="199.40" cy="339.33" r="1.9"/>
<circle cx="201.00" cy="338.97" r="1.9"/>
<circle cx="202.60" cy="338.62" r="1.9"/>
<circle cx="204.20" cy="338.24" r="1.9"/>
<circle cx="205.80" cy="337.81" r="1.9"/>
<circle cx="207.40" cy="337.38" r="1.9"/>
<circle cx="209.00" cy="336.92" r="1.9"/>
<circle cx="210.60" cy="336.26" r="1.9"/>
<circle cx="212.20" cy="335.60" r="1.9"/>
<circle cx="213.80" cy="334.95" r="1.9"/>
<circle cx="215.40" cy="334.29" r="1.9"/>
<circle cx="217.00" cy="333.49" r="1.9"/>
<circle cx="218.60" cy="332.58" r="1.9"/>
<circle cx="220.20" cy="331.67" r="1.9"/>
<circle cx="221.80" cy="330.76" r="1.9"/>
<circle cx="223.40" cy="329.85" r="1.9"/>
<circle cx="225.00" cy="328.96" r="1.9"/>
<circle cx="226.60" cy="328.27" r="1.9"/>
<circle cx="228.20" cy="327.58" r="1.9"/>
<circle cx="229.80" cy="326.88" r="1.9"/>
<circle cx="231.40" cy="326.19" r="1.9"/>
<circle cx="233.00" cy="325.50" r="1.9"/>
<circle cx="234.60" cy="324.93" r="1.9"/>
<circle cx="236.20" cy="324.46" r="1.9"/>
<circle cx="237.80" cy="323.99" r="1.9"/>
<circle cx="239.40" cy="323.52" r="1.9"/>
<circle cx="241.00" cy="323.04" r="1.9"/>
<circle cx="242.60" cy="322.59" r="1.9"/>
<circle cx="244.20" cy="322.35" r="1.9"/>
<circle cx="245.80" cy="322.11" r="1.9"/>
<circle cx="247.40" cy="321.88" r="1.9"/>
<circle cx="249.00" cy="321.64" r="1.9"/>
<circle cx="250.60" cy="321.40" r="1.9"/>
<circle cx="252.20" cy="321.32" r="1.9"/>
<circle cx="253.80" cy="321.35" r="1.9"/>
<circle cx="255.40" cy="321.38" r="1.9"/>
<circle cx="257.00" cy="321.41" r="1.9"/>
<circle cx="258.60" cy="321.44" r="1.9"/>
<circle cx="260.20" cy="321.47" r="1.9"/>
<circle cx="261.80" cy="321.51" r="1.9"/>
<circle cx="263.40" cy="321.58" r="1.9"/>
<circle cx="265.00" cy="321.65" r="1.9"/>
<circle cx="266.60" cy="321.73" r="1.9"/>
<circle cx="268.20" cy="321.80" r="1.9"/>
<circle cx="269.80" cy="321.87" r="1.9"/>
<circle cx="271.40" cy="322.10" r="1.9"/>
<circle cx="273.00" cy="322.43" r="1.9"/>
<circle cx="274.60" cy="322.76" r="1.9"/>
<circle cx="276.20" cy="323.08" r="1.9"/>
<circle cx="277.80" cy="323.41" r="1.9"/>
<circle cx="279.40" cy="323.73" r="1.9"/>
<circle cx="281.00" cy="324.12" r="1.9"/>
<circle cx="282.60" cy="324.76" r="1.9"/>
<circle cx="284.20" cy="325.39" r="1.9"/>
<circle cx="285.80" cy="326.03" r="1.9"/>
<circle cx="287.40" cy="326.67" r="1.9"/>
<circle cx="289.00" cy="327.30" r="1.9"/>
<circle cx="290.60" cy="327.94" r="1.9"/>
<circle cx="292.20" cy="328.71" r="1.9"/>
<circle cx="293.80" cy="329.53" r="1.9"/>
<circle cx="295.40" cy="330.35" r="1.9"/>
<circle cx="297.00" cy="331.17" r="1.9"/>
<circle cx="298.60" cy="331.99" r="1.9"/>
<circle cx="301.20" cy="332.70" r="2.05"/>
<circle cx="303.90" cy="334.20" r="2.05"/>
<circle cx="306.80" cy="337.60" r="2.05"/>
<circle cx="309.80" cy="341.20" r="2.05"/>
<circle cx="313.40" cy="343.20" r="2.05"/>
<circle cx="316.60" cy="345.60" r="2.05"/>
<circle cx="319.60" cy="348.60" r="2.05"/>
<circle cx="322.70" cy="347.30" r="2.05"/>
<circle cx="326.20" cy="349.10" r="2.05"/>
<circle cx="329.30" cy="353.00" r="2.05"/>
<circle cx="332.30" cy="356.40" r="2.05"/>
<circle cx="335.50" cy="362.00" r="2.05"/>
<circle cx="338.40" cy="363.70" r="2.05"/>
<circle cx="341.60" cy="364.50" r="2.05"/>
<circle cx="344.50" cy="358.30" r="2.05"/>
<circle cx="347.70" cy="354.20" r="2.05"/>
<circle cx="350.60" cy="351.00" r="2.05"/>
<circle cx="353.80" cy="349.10" r="2.05"/>
<circle cx="356.70" cy="344.90" r="2.05"/>
<circle cx="359.90" cy="348.10" r="2.05"/>
<circle cx="363.10" cy="351.50" r="2.05"/>
<circle cx="366.00" cy="322.20" r="2.05"/>
<circle cx="369.20" cy="316.10" r="2.05"/>
<circle cx="372.2" cy="290.3" r="2.3"/>
</g>
<text transform="translate(201.50 9.40) scale(1 1.207)" font-family="Liberation Serif, sans-serif" font-size="9.41" font-weight="bold" stroke="#000" stroke-width="0.35" stroke-linejoin="round">NGC</text>
<text transform="translate(230.10 9.40) scale(1 0.950)" font-family="Liberation Sans, sans-serif" font-size="11.28" font-weight="bold" stroke="#000" stroke-width="0.15">1399</text>
<text transform="translate(188.50 255.20) scale(1 0.896)" font-family="Liberation Serif, sans-serif" font-size="13.19" font-weight="bold" stroke="#000" stroke-width="0.35" stroke-linejoin="round">Sersic</text>
<text transform="translate(228.10 255.20) scale(1 1.101)" font-family="Liberation Serif, sans-serif" font-size="10.63" font-weight="bold" stroke="#000" stroke-width="0.35" stroke-linejoin="round">n</text>
<path d="M235.5 250.5h5.9M235.5 253.3h5.9" stroke="#000" stroke-width="1.25"/>
<text transform="translate(242.40 255.20) scale(1 0.844)" font-family="Liberation Sans, sans-serif" font-size="12.70" font-weight="bold" stroke="#000" stroke-width="0.15">6.39</text>
<text transform="translate(187.90 361.40) scale(1 1.119)" font-family="Liberation Sans, sans-serif" font-size="9.58" font-weight="bold" stroke="#000" stroke-width="0.15">Δ</text>
<path d="M195.8 356.8h6.8M195.8 359.6h6.8" stroke="#000" stroke-width="1.25"/>
<text transform="translate(203.60 361.40) scale(1 0.913)" font-family="Liberation Sans, sans-serif" font-size="11.58" font-weight="bold" stroke="#000" stroke-width="0.15">0.4</text>
<text transform="translate(20.50 54.45) scale(1 0.955)" font-family="Liberation Sans, sans-serif" font-size="11.08" font-weight="bold" stroke="#000" stroke-width="0.15">15</text>
<text transform="translate(20.50 124.82) scale(1 0.941)" font-family="Liberation Sans, sans-serif" font-size="11.08" font-weight="bold" stroke="#000" stroke-width="0.15">20</text>
<text transform="translate(20.50 195.18) scale(1 0.941)" font-family="Liberation Sans, sans-serif" font-size="11.08" font-weight="bold" stroke="#000" stroke-width="0.15">25</text>
<text transform="translate(20.50 265.55) scale(1 0.941)" font-family="Liberation Sans, sans-serif" font-size="11.08" font-weight="bold" stroke="#000" stroke-width="0.15">30</text>
<text transform="translate(27.60 293.55) scale(1 1.398)" font-family="Liberation Sans, sans-serif" font-size="7.57" font-weight="bold" stroke="#000" stroke-width="0.15">1</text>
<text transform="translate(17.10 315.82) scale(1 0.954)" font-family="Liberation Sans, sans-serif" font-size="10.94" font-weight="bold" stroke="#000" stroke-width="0.15">0.5</text>
<text transform="translate(26.90 338.20) scale(1 1.072)" font-family="Liberation Sans, sans-serif" font-size="9.73" font-weight="bold" stroke="#000" stroke-width="0.15">0</text>
<text transform="translate(8.80 360.77) scale(1 0.888)" font-family="Liberation Sans, sans-serif" font-size="11.75" font-weight="bold" stroke="#000" stroke-width="0.15">−0.5</text>
<text transform="translate(18.30 383.10) scale(1 0.914)" font-family="Liberation Sans, sans-serif" font-size="11.58" font-weight="bold" stroke="#000" stroke-width="0.15">−1</text>
<text transform="translate(24.20 393.30) scale(1 0.913)" font-family="Liberation Sans, sans-serif" font-size="11.42" font-weight="bold" stroke="#000" stroke-width="0.15">0.001</text>
<text transform="translate(102.70 393.30) scale(1 0.943)" font-family="Liberation Sans, sans-serif" font-size="11.05" font-weight="bold" stroke="#000" stroke-width="0.15">0.01</text>
<text transform="translate(179.80 393.30) scale(1 0.993)" font-family="Liberation Sans, sans-serif" font-size="10.50" font-weight="bold" stroke="#000" stroke-width="0.15">0.1</text>
<text transform="translate(260.60 393.30) scale(1 1.398)" font-family="Liberation Sans, sans-serif" font-size="7.57" font-weight="bold" stroke="#000" stroke-width="0.15">1</text>
<text transform="translate(330.50 393.30) scale(1 1.052)" font-family="Liberation Sans, sans-serif" font-size="9.91" font-weight="bold" stroke="#000" stroke-width="0.15">10</text>
<text transform="translate(186.80 407.60) scale(1 1.108)" font-family="Liberation Serif, sans-serif" font-size="10.75" font-weight="bold" stroke="#000" stroke-width="0.35" stroke-linejoin="round">R</text>
<text transform="translate(203.90 407.60) scale(1 0.880)" font-family="Liberation Serif, sans-serif" font-size="13.08" font-weight="bold" stroke="#000" stroke-width="0.35" stroke-linejoin="round">arcmin</text>
<path d="M203.7 399.4h-3.3v10.6h3.3M244.6 399.4h3.6v10.6h-3.6" stroke="#000" stroke-width="1.3" fill="none"/>
<g transform="translate(9.8 348.3) rotate(-90)">
<text transform="translate(0.00 0.00) scale(1 1.358)" font-family="Liberation Sans, sans-serif" font-size="8.21" font-weight="bold" stroke="#000" stroke-width="0.15">O</text>
<path d="M8.8 -3.4h6.6" stroke="#000" stroke-width="1.3"/>
<text transform="translate(16.20 0.00) scale(1 1.383)" font-family="Liberation Sans, sans-serif" font-size="8.06" font-weight="bold" stroke="#000" stroke-width="0.15">C</text>
</g>
<g transform="translate(10.8 206) rotate(-90)">
<text transform="translate(0.97 0.00) scale(1 0.904)" font-family="Liberation Serif, sans-serif" font-size="13.47" font-weight="normal" font-style="italic" stroke="#000" stroke-width="0.35" stroke-linejoin="round">μ</text>
<text transform="translate(8.20 5.00) scale(1 1.667)" font-family="Liberation Serif, sans-serif" font-size="5.13" font-weight="bold" stroke="#000" stroke-width="0.35" stroke-linejoin="round">K</text>
<path d="M8.6 0.2v4.4M9.8 0.2v4.4M11 0.2v4.4" stroke="#000" stroke-width="1.1"/>
<text transform="translate(21.90 0.00) scale(1 0.832)" font-family="Liberation Serif, sans-serif" font-size="14.36" font-weight="bold" stroke="#000" stroke-width="0.35" stroke-linejoin="round">mag/arcsec</text>
<text transform="translate(91.20 -3.50) scale(1 1.026)" font-family="Liberation Sans, sans-serif" font-size="6.13" font-weight="bold" stroke="#000" stroke-width="0.15">2</text>
<path d="M21.3 -9.2h-3v11.6h3M96.3 -9.2h3v11.6h-3" stroke="#000" stroke-width="1.3" fill="none"/>
</g>
</svg>
</body></html>
